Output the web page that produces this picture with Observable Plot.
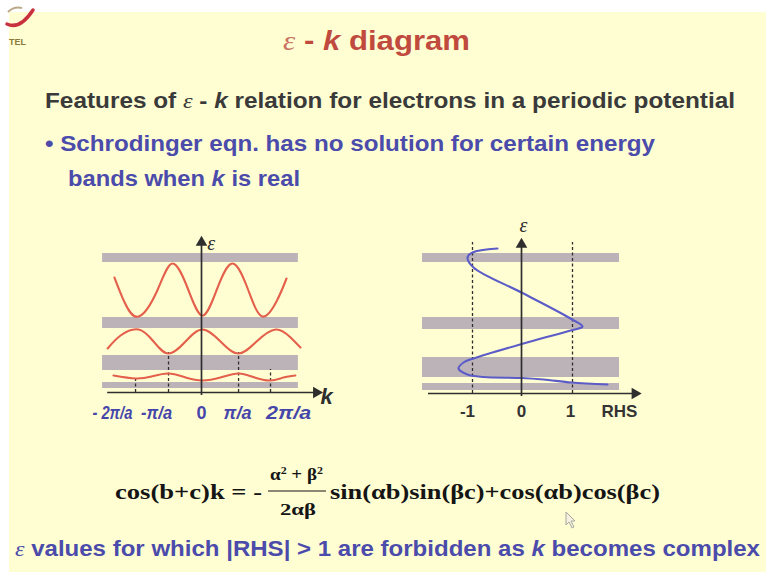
<!DOCTYPE html>
<html>
<head>
<meta charset="utf-8">
<script src="https://cdn.jsdelivr.net/npm/d3@7"></script>
<script src="https://cdn.jsdelivr.net/npm/@observablehq/plot@0.6"></script>
<style>
  html, body { margin: 0; padding: 0; background: #ffffff; }
  #slide { position: relative; width: 766px; height: 579px; overflow: hidden; background: #ffffff; }
  #paper { position: absolute; left: 9px; top: 12px; width: 757px; height: 560px; background: #fffed3; }
  #words { position: absolute; left: 0; top: 0; }
  #bandPlot { position: absolute; left: 90px; top: 215px; }
  #rhsPlot { position: absolute; left: 410px; top: 216px; }
</style>
</head>
<body>
<div id="slide">
  <div id="paper"></div>
  <svg id="words" width="766" height="579" xmlns="http://www.w3.org/2000/svg">
    <!-- corner logo -->
    <path d="M7,24 Q20,30 33,10" fill="none" stroke="#c8323c" stroke-width="3.5" stroke-linecap="round"/>
    <path d="M8,12 Q14,6 22,8" fill="none" stroke="#b9a98a" stroke-width="2"/>
    <text x="9" y="45" font-family="Liberation Sans" font-weight="bold" font-size="9" fill="#8c7a3c">TEL</text>

    <g font-family="Liberation Sans, Arial, sans-serif" font-weight="bold">
      <text x="283" y="50" font-size="28" fill="#c04a3e" textLength="187" lengthAdjust="spacingAndGlyphs"><tspan font-family="Liberation Serif" font-style="italic" font-weight="normal" fill="#c9725f">ε</tspan> - <tspan font-style="italic">k</tspan> diagram</text>
      <text x="45" y="108" font-size="22" fill="#3a3a3a" textLength="690" lengthAdjust="spacingAndGlyphs">Features of <tspan font-family="Liberation Serif" font-style="italic" font-weight="normal">ε</tspan> - <tspan font-style="italic">k</tspan> relation for electrons in a periodic potential</text>
      <text x="45" y="151" font-size="22" fill="#4b4bab" textLength="610" lengthAdjust="spacingAndGlyphs">• Schrodinger eqn. has no solution for certain energy</text>
      <text x="68" y="186" font-size="22" fill="#4b4bab" textLength="232" lengthAdjust="spacingAndGlyphs">bands when <tspan font-style="italic">k</tspan> is real</text>
      <text x="15" y="556" font-size="22" fill="#4b4bab" textLength="745" lengthAdjust="spacingAndGlyphs"><tspan font-family="Liberation Serif" font-style="italic" font-weight="normal">ε</tspan> values for which |RHS| &gt; 1 are forbidden as <tspan font-style="italic">k</tspan> becomes complex</text>
    </g>

    <!-- Kronig–Penney condition -->
    <g font-family="Liberation Serif, Times New Roman, serif" font-weight="bold" fill="#151515">
      <text x="115" y="499" font-size="21" textLength="147" lengthAdjust="spacingAndGlyphs">cos(b+c)k = -</text>
      <text x="270" y="480" font-size="16" textLength="53" lengthAdjust="spacingAndGlyphs">α<tspan dy="-6" font-size="10">2</tspan><tspan dy="6"> + β</tspan><tspan dy="-6" font-size="10">2</tspan></text>
      <line x1="268" y1="491" x2="326" y2="491" stroke="#151515" stroke-width="1.2"/>
      <text x="280" y="515" font-size="16" textLength="36" lengthAdjust="spacingAndGlyphs">2αβ</text>
      <text x="330" y="499" font-size="21" textLength="330" lengthAdjust="spacingAndGlyphs">sin(αb)sin(βc)+cos(αb)cos(βc)</text>
    </g>

    <!-- pointer -->
    <path d="M566,512 L566,525 L569,522 L572,528 L574,527 L571,521 L575,521 Z" fill="#f4f1e0" stroke="#a8a8a0" stroke-width="1"/>
  </svg>
  <div id="bandPlot"></div>
  <div id="rhsPlot"></div>
</div>
<script>
// Shaded energy bands (ε in arbitrary units), left panel: ε versus k
const bandLowLeft  = [13.0, 6.4, 2.2, 0.4];
const bandHighLeft = [13.9, 7.5, 3.7, 1.0];
const bandSpanLeft = [-2.91, 2.85];      // k extent, units of π/a

// Shaded energy bands, right panel: ε versus RHS
const bandLowRight  = [13.1, 6.4, 1.6, 0.3];
const bandHighRight = [14.0, 7.6, 3.6, 1.0];
const bandSpanRight = [-1.98, 1.96];     // RHS extent

// Allowed ε(k) branches, k in units of π/a
const upperK = [-2.56, -2.26, -1.85, -1.30, -0.85, -0.38, 0.03, 0.44, 0.91, 1.38, 1.79, 2.22, 2.50];
const upperE = [11.5, 9.0, 7.6, 10.2, 12.9, 10.2, 7.7, 10.2, 12.9, 10.2, 7.6, 9.2, 11.4];
const middleK = [-2.76, -2.38, -1.85, -1.41, -0.97, -0.47, 0.03, 0.56, 1.09, 1.62, 2.18, 2.62, 2.91];
const middleE = [4.4, 5.7, 6.3, 5.1, 3.9, 5.1, 6.3, 5.1, 3.9, 5.1, 6.3, 5.5, 4.5];
const lowerK = [-2.59, -1.94, -1.47, -0.97, -0.47, 0.03, 0.56, 1.09, 1.56, 2.03, 2.41, 2.76];
const lowerE = [1.7, 1.4, 1.6, 1.9, 1.5, 1.2, 1.5, 1.9, 1.5, 1.2, 1.5, 1.7];

// Zone-boundary markers and k tick labels (label widths in px)
const zoneK   = [-1.94, -0.97, 1.09, 2.03];
const zoneTop = [1.6, 4.0, 4.0, 2.3];
const kTickPos    = [-2.62, -1.32, 0.0, 1.06, 2.56];
const kTickLabels = ["- 2π/a", "-π/a", "0", "π/a", "2π/a"];
const kTickWidth  = [40, 31, 10, 28, 45];

// Right-hand side of the dispersion relation traced against ε
const rhsE     = [0.9, 1.1, 1.4, 1.55, 1.65, 1.9, 2.5, 3.1, 3.5, 5.0, 6.3, 6.7, 7.5, 10.0, 12.6, 13.6, 14.1, 14.5];
const rhsValue = [1.72, 1.0, 0.44, 0.0, -0.76, -1.08, -1.26, -1.16, -0.96, 0.04, 0.98, 1.22, 0.98, 0.04, -0.96, -1.08, -0.98, -0.48];
const rhsLimits = [-0.98, 1.02];
const rhsTickPos    = [-1.08, 0, 0.98, 1.96];
const rhsTickLabels = ["-1", "0", "1", "RHS"];

const ink = "#2e2e2e";
const bandFill = "#bcb3b8";
const redCurve = "#e4604c";
const blueCurve = "#5c5cc9";
const labelBlue = "#4646aa";

const pts = (xs, ys) => xs.map((x, i) => ({x, y: ys[i]}));
const bands = (lo, hi, span) => lo.map((l, i) => ({x1: span[0], x2: span[1], lo: l, hi: hi[i]}));

// ---- ε–k panel ----
const leftPanel = Plot.plot({
  width: 250, height: 215,
  marginTop: 0, marginRight: 0, marginBottom: 0, marginLeft: 0,
  x: {domain: [-3, 3.5], range: [9, 230], axis: null},
  y: {domain: [0, 17], range: [177, 7], axis: null},
  style: {background: "transparent", overflow: "visible"},
  marks: [
    Plot.rect(bands(bandLowLeft, bandHighLeft, bandSpanLeft), {x1: "x1", x2: "x2", y1: "lo", y2: "hi", fill: bandFill}),
    Plot.ruleX(zoneK.map((k, i) => ({k, y1: 0, top: zoneTop[i]})), {x: "k", y1: "y1", y2: "top", stroke: ink, strokeWidth: 1.3, strokeDasharray: "3,2.5"}),
    Plot.line(pts(upperK, upperE), {x: "x", y: "y", curve: "natural", stroke: redCurve, strokeWidth: 2.1}),
    Plot.line(pts(middleK, middleE), {x: "x", y: "y", curve: "natural", stroke: redCurve, strokeWidth: 2.1}),
    Plot.line(pts(lowerK, lowerE), {x: "x", y: "y", curve: "natural", stroke: redCurve, strokeWidth: 2.1}),
    Plot.ruleY([{y: 0, x1: -2.76, x2: 3.35}], {y: "y", x1: "x1", x2: "x2", stroke: ink, strokeWidth: 1.7}),
    Plot.ruleX([{x: 0, y1: -0.3, y2: 15.0}], {x: "x", y1: "y1", y2: "y2", stroke: ink, strokeWidth: 1.7}),
    Plot.dot([{x: 0, y: 15.0, r: 0}, {x: 3.38, y: 0, r: 90}], {x: "x", y: "y", rotate: "r", symbol: "triangle", r: 4.3, fill: ink}),
    Plot.text([{x: 0.17, y: 14.9, t: "ε"}], {x: "x", y: "y", text: "t", textAnchor: "start", fontFamily: "Liberation Serif", fontStyle: "italic", fontSize: 20, fill: ink}),
    Plot.text([{x: 3.68, y: -0.4, t: "k"}], {x: "x", y: "y", text: "t", fontFamily: "Liberation Sans", fontWeight: "bold", fontStyle: "italic", fontSize: 22, fill: ink}),
    Plot.text(kTickPos.map((x, i) => ({x, t: kTickLabels[i]})), {x: "x", y: -2.1, text: "t", fontFamily: "Liberation Sans", fontWeight: "bold", fontStyle: "italic", fontSize: 18, fill: labelBlue})
  ]
});
// fit the k tick labels to their printed widths; the origin label stays upright
{
  const groups = leftPanel.querySelectorAll('g[aria-label="text"]');
  const tickGroup = groups[groups.length - 1];
  tickGroup.querySelectorAll("text").forEach((el, i) => {
    if (kTickLabels[i] === "0") {
      el.setAttribute("font-style", "normal");
    } else {
      el.setAttribute("textLength", kTickWidth[i]);
      el.setAttribute("lengthAdjust", "spacingAndGlyphs");
    }
  });
}
document.getElementById("bandPlot").append(leftPanel);

// ---- ε–RHS panel ----
const rightPanel = Plot.plot({
  width: 250, height: 215,
  marginTop: 0, marginRight: 0, marginBottom: 0, marginLeft: 0,
  x: {domain: [-2, 2.5], range: [11, 236], axis: null},
  y: {domain: [0, 17], range: [177, 7], axis: null},
  style: {background: "transparent", overflow: "visible"},
  marks: [
    Plot.rect(bands(bandLowRight, bandHighRight, bandSpanRight), {x1: "x1", x2: "x2", y1: "lo", y2: "hi", fill: bandFill}),
    Plot.ruleX(rhsLimits.map(x => ({x, y1: 0, y2: 15.1})), {x: "x", y1: "y1", y2: "y2", stroke: ink, strokeWidth: 1.3, strokeDasharray: "3,2.5"}),
    Plot.line(pts(rhsValue, rhsE), {x: "x", y: "y", curve: "catmull-rom", stroke: blueCurve, strokeWidth: 2.1}),
    Plot.ruleY([{y: 0, x1: -1.86, x2: 2.25}], {y: "y", x1: "x1", x2: "x2", stroke: ink, strokeWidth: 1.7}),
    Plot.ruleX([{x: 0, y1: -0.3, y2: 14.9}], {x: "x", y1: "y1", y2: "y2", stroke: ink, strokeWidth: 1.7}),
    Plot.dot([{x: 0, y: 14.9, r: 0}, {x: 2.27, y: 0, r: 90}], {x: "x", y: "y", rotate: "r", symbol: "triangle", r: 4.3, fill: ink}),
    Plot.text([{x: 0.04, y: 16.8, t: "ε"}], {x: "x", y: "y", text: "t", fontFamily: "Liberation Serif", fontStyle: "italic", fontSize: 20, fill: ink}),
    Plot.text(rhsTickPos.map((x, i) => ({x, t: rhsTickLabels[i]})), {x: "x", y: -1.8, text: "t", fontFamily: "Liberation Sans", fontWeight: "bold", fontSize: 17, fill: "#333333"})
  ]
});
document.getElementById("rhsPlot").append(rightPanel);
</script>
</body>
</html>
